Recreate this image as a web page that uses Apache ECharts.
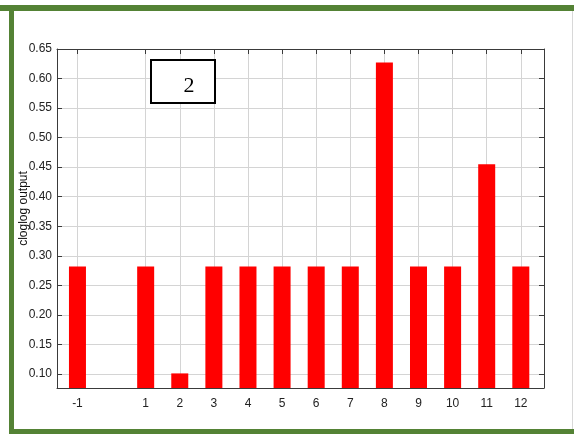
<!DOCTYPE html>
<html>
<head>
<meta charset="utf-8">
<script src="https://cdn.jsdelivr.net/npm/echarts@6/dist/echarts.min.js"></script>
<style>
html,body{margin:0;padding:0;background:#fff;}
#chart{width:574px;height:434px;}
</style>
</head>
<body>
<div id="chart"></div>
<script>
var categories = [-1, 1, 2, 3, 4, 5, 6, 7, 8, 9, 10, 11, 12];
var values = [0.282, 0.282, 0.101, 0.282, 0.282, 0.282, 0.282, 0.282, 0.627, 0.282, 0.282, 0.455, 0.282];
var yTicks = [0.10, 0.15, 0.20, 0.25, 0.30, 0.35, 0.40, 0.45, 0.50, 0.55, 0.60, 0.65];
var yName = 'cloglog output';
var panelLabel = '2';

var chart = echarts.init(document.getElementById('chart'), null, {renderer: 'canvas'});
var font = 'Liberation Sans, Arial, sans-serif';
var axisColor = '#3a3a3a';
var gridColor = '#d4d4d4';

var xMin = -1.6, xMax = 12.68, yMin = 0.0763, yMax = 0.65;

var option = {
  animation: false,
  backgroundColor: '#fff',
  grid: {left: 57, right: 30, top: 49, bottom: 46, containLabel: false},
  xAxis: [{
    type: 'value', min: xMin, max: xMax, position: 'bottom',
    axisLine: {show: true, onZero: false, lineStyle: {color: axisColor, width: 1}},
    axisTick: {show: false, customValues: categories},
    axisLabel: {customValues: categories, color: '#222', fontFamily: font, fontSize: 12, margin: 10,
      formatter: function (v) { return String(v); }},
    splitLine: {show: true, lineStyle: {color: gridColor, width: 1}}
  }, {
    type: 'value', min: xMin, max: xMax, position: 'top',
    axisLine: {show: true, onZero: false, lineStyle: {color: axisColor, width: 1}},
    axisTick: {show: true, inside: true, length: 5, customValues: categories, lineStyle: {color: axisColor}},
    axisLabel: {show: false},
    splitLine: {show: false}
  }],
  yAxis: [{
    type: 'value', min: yMin, max: yMax, position: 'left',
    name: yName, nameLocation: 'middle', nameGap: 27, nameRotate: 90, nameMoveOverlap: false,
    nameTextStyle: {color: '#111', fontFamily: font, fontSize: 12, padding: [0, 0, 0, 20]},
    axisLine: {show: true, onZero: false, lineStyle: {color: axisColor, width: 1}},
    axisTick: {show: true, inside: true, length: 5, customValues: yTicks, lineStyle: {color: axisColor}},
    axisLabel: {customValues: yTicks, color: '#222', fontFamily: font, fontSize: 12, margin: 5,
      formatter: function (v) { return v.toFixed(2); }},
    splitLine: {show: true, lineStyle: {color: gridColor, width: 1}}
  }, {
    type: 'value', min: yMin, max: yMax, position: 'right',
    axisLine: {show: true, onZero: false, lineStyle: {color: axisColor, width: 1}},
    axisTick: {show: true, inside: true, length: 5, customValues: yTicks, lineStyle: {color: axisColor}},
    axisLabel: {show: false},
    splitLine: {show: false}
  }],
  series: [{
    type: 'bar',
    xAxisIndex: 0, yAxisIndex: 0,
    barWidth: 17,
    itemStyle: {color: '#ff0000'},
    data: categories.map(function (c, i) { return [c, values[i]]; })
  }],
  graphic: [
    {type: 'rect', z: 100, shape: {x: 0, y: 5, width: 574, height: 6}, style: {fill: '#548235'}},
    {type: 'rect', z: 100, shape: {x: 9, y: 5, width: 5, height: 429}, style: {fill: '#548235'}},
    {type: 'rect', z: 100, shape: {x: 9, y: 429, width: 565, height: 5}, style: {fill: '#548235'}},
    {type: 'rect', z: 100, shape: {x: 572, y: 11, width: 1, height: 418}, style: {fill: '#d8d8d8'}},
    {type: 'rect', z: 100, shape: {x: 151, y: 60, width: 64, height: 43}, style: {fill: '#fff', stroke: '#000', lineWidth: 2}},
    {type: 'text', z: 101, x: 189, y: 86, style: {text: panelLabel, font: '22px "Liberation Serif", "Times New Roman", serif', fill: '#000', textAlign: 'center', textVerticalAlign: 'middle'}}
  ]
};
chart.setOption(option);
</script>
</body>
</html>
